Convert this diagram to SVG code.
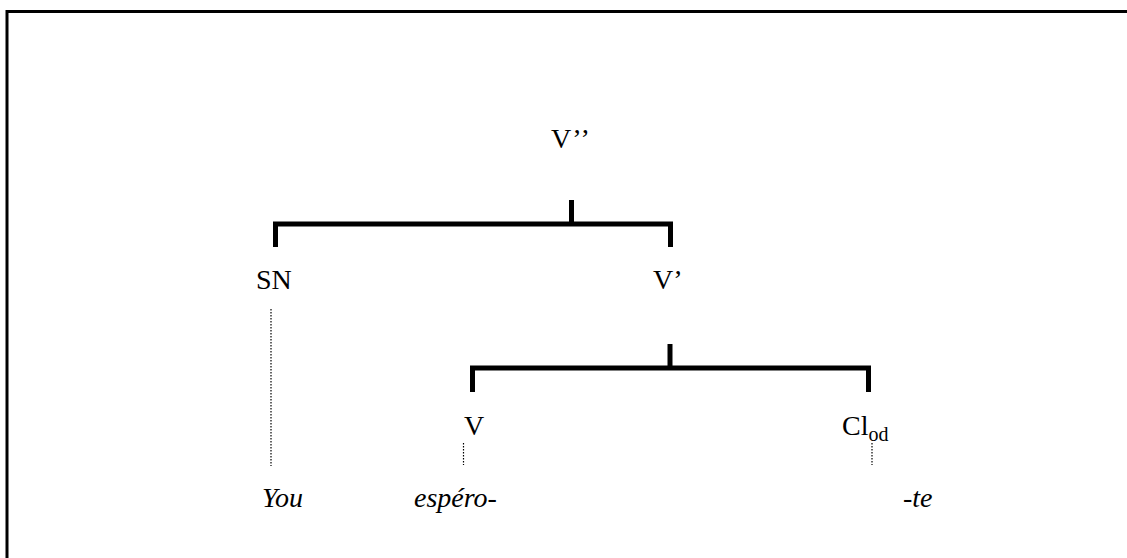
<svg xmlns="http://www.w3.org/2000/svg" width="1127" height="558" viewBox="0 0 1127 558">
<style>
.t{font-family:"Liberation Serif",serif;font-size:28px;fill:#000}
.i{font-style:italic}
.br{fill:none;stroke:#000;stroke-width:5;stroke-linecap:butt;stroke-linejoin:miter}
.dot{stroke:#000;stroke-width:1.2;stroke-dasharray:1.5 1.5}
</style>
<rect x="0" y="0" width="1127" height="558" fill="#fff"/>
<path d="M7,558 V11.5 H1127" fill="none" stroke="#000" stroke-width="3"/>
<g id="connectors">
<path class="br" d="M275.5,247 V224 H670.5 V247"/>
<line class="br" x1="571.5" y1="200" x2="571.5" y2="224"/>
<path class="br" d="M472.5,392 V368 H868.5 V392"/>
<line class="br" x1="670" y1="344" x2="670" y2="368"/>
<line class="dot" x1="271" y1="309" x2="271" y2="466"/>
<line class="dot" x1="463.5" y1="443" x2="463.5" y2="465"/>
<line class="dot" x1="872" y1="443" x2="872" y2="465"/>
</g>
<g id="n-vpp"><text class="t" x="551" y="148" letter-spacing="1">V’’</text></g>
<g id="n-sn"><text class="t" x="256" y="289">SN</text></g>
<g id="n-vp"><text class="t" x="653" y="289">V’</text></g>
<g id="n-v"><text class="t" x="464" y="435">V</text></g>
<g id="n-cl"><text class="t" x="842" y="435">Cl<tspan font-size="20" dy="6">od</tspan></text></g>
<g id="n-you"><text class="t i" x="262" y="507">You</text></g>
<g id="n-espero"><text class="t i" x="414" y="507">espéro-</text></g>
<g id="n-te"><text class="t i" x="903" y="507">-te</text></g>
</svg>
